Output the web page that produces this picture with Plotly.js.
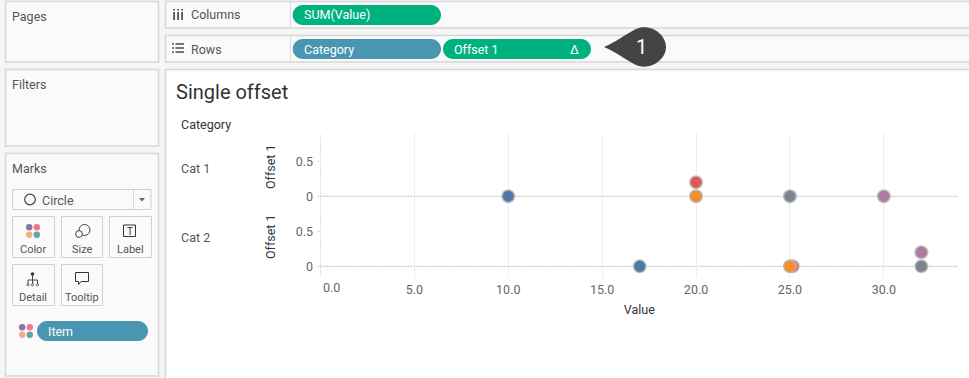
<!DOCTYPE html>
<html>
<head>
<meta charset="utf-8">
<script src="https://cdn.plot.ly/plotly-3.0.1.min.js"></script>
<style>html,body{margin:0;padding:0;background:#f5f5f5;overflow:hidden}#chart{width:969px;height:378px}</style>
</head>
<body>
<div id="chart"></div>
<script>
const items = ['Blue item', 'Red item', 'Orange item', 'Grey item', 'Purple item'];
const itemColors = ['#4e79a7', '#e15759', '#f28e2b', '#7b848f', '#b07aa1'];
const cat1Values = [10, 20, 20, 25, 30];
const cat1Offsets = [0, 0.2, 0, 0, 0];
const cat2Values = [17, 25.15, 25, 32, 32];
const cat2Offsets = [0, 0, 0, 0, 0.2];
const xTickVals = [0, 5, 10, 15, 20, 25, 30];
const xTickText = ['', '5.0', '10.0', '15.0', '20.0', '25.0', '30.0'];
const yTickVals = [0, 0.5];
const yTickText = ['0', '0.5'];

const W = 969, H = 378;
const FONT = 'Roboto, sans-serif';
const px = x => x / W, py = y => 1 - y / H;
const shapes = [], annotations = [];

function rect(x0, y0, x1, y1, fill, line, lw) {
  shapes.push({type:'rect', xref:'paper', yref:'paper', layer:'below',
    x0:px(x0), x1:px(x1), y0:py(y0), y1:py(y1), fillcolor:fill||'rgba(0,0,0,0)',
    line:{color:line||'rgba(0,0,0,0)', width:lw===undefined?(line?2:0):lw}});
}
function pathPx(cmds, fill, line, lw) {
  const d = cmds.map(c => {
    if (typeof c === 'string') return c;
    return px(c[0]) + ',' + py(c[1]);
  }).join(' ');
  shapes.push({type:'path', xref:'paper', yref:'paper', layer:'below', path:d,
    fillcolor:fill||'rgba(0,0,0,0)', line:{color:line||'rgba(0,0,0,0)', width:lw===undefined?(line?1:0):lw}});
}
function circle(cx, cy, r, fill, line, lw) {
  shapes.push({type:'circle', xref:'paper', yref:'paper', layer:'below',
    x0:px(cx-r), x1:px(cx+r), y0:py(cy-r), y1:py(cy+r), fillcolor:fill||'rgba(0,0,0,0)',
    line:{color:line||'rgba(0,0,0,0)', width:lw===undefined?(line?1:0):lw}});
}
function pill(x0, y0, x1, y1, fill) {
  const r = (y1 - y0) / 2, k = r * 0.55, m = (y0 + y1) / 2;
  pathPx(['M',[x0+r,y0],'L',[x1-r,y0],'C',[x1-r+k,y0],[x1,m-k],[x1,m],'C',[x1,m+k],[x1-r+k,y1],[x1-r,y1],
    'L',[x0+r,y1],'C',[x0+r-k,y1],[x0,m+k],[x0,m],'C',[x0,m-k],[x0+r-k,y0],[x0+r,y0],'Z'], fill);
}
function label(text, x, y, opts) {
  opts = opts || {};
  const anchor = opts.anchor || 'left';
  annotations.push({text:text, xref:'paper', yref:'paper', x:px(anchor === 'left' ? x - 1 : x), y:py(y),
    xanchor:anchor, yanchor:'middle', showarrow:false, textangle:opts.angle||0,
    borderpad:0, font:{family:FONT, size:opts.size||12.5, color:opts.color||'#555'}});
}
function dots(cx, cy) {
  circle(cx-3.8, cy-3.8, 3.2, '#8b75a0');
  circle(cx+3.8, cy-3.8, 3.2, '#f0768a');
  circle(cx-3.8, cy+3.8, 3.2, '#f2ad84');
  circle(cx+3.8, cy+3.8, 3.2, '#6b9fab');
}

// Left shelves
rect(5.5, 1.5, 158.5, 62, '#fafafa', '#d6d6d6', 1.5);
rect(5.5, 69.5, 158.5, 146, '#fafafa', '#d6d6d6', 1.5);
rect(5.5, 153.5, 158.5, 376, '#fafafa', '#d6d6d6', 1.5);
// Columns and rows shelves
rect(165.5, 1.5, 975, 28, '#fafafa', '#d6d6d6', 1.5);
rect(165.5, 35.5, 975, 62, '#fafafa', '#d6d6d6', 1.5);
rect(290, 1.5, 290.8, 28, '#d6d6d6');
rect(290, 35.5, 290.8, 62, '#d6d6d6');
// Chart pane
rect(165.5, 69.5, 975, 385, '#ffffff', '#d6d6d6', 1.5);

// Pills
pill(292.7, 5, 441, 25, '#00b180');
pill(292.7, 39, 441, 59, '#4996b2');
pill(443, 39, 591, 59, '#00b180');
pill(37, 321, 148, 341, '#4996b2');

// Callout
pathPx(['M',[604,47],'C',[616,42],[626,34],[636,29],'C',[650,23],[666,34],[666,47],'C',[666,60],[650,71],[636,65],'C',[626,60],[616,52],[604,47],'Z'], '#444444');

// Shelf icons
rect(173.2, 12, 175, 20, '#555'); rect(177.2, 12, 179, 20, '#555'); rect(181.2, 12, 183, 20, '#555');
rect(173.2, 9, 175, 10.6, '#555'); rect(177.2, 9, 179, 10.6, '#555'); rect(181.2, 9, 183, 10.6, '#555');
[44, 48, 52].forEach(y => { rect(172, y-0.8, 174, y+0.8, '#555'); rect(175.5, y-0.8, 184, y+0.8, '#555'); });

// Marks card
rect(12.5, 189.5, 151, 209.5, '#fafafa', '#d0d0d0', 1);
rect(133, 190, 133.8, 209, '#d0d0d0');
circle(30, 199.5, 5.3, 'rgba(0,0,0,0)', '#444', 1.2);
pathPx(['M',[139,198],'L',[145,198],'L',[142,201.5],'Z'], '#666');
[[12.5,216.5,54.5,257.5],[61.5,216.5,102.5,257.5],[109.5,216.5,151.5,257.5],[12.5,264.5,54.5,305.5],[61.5,264.5,102.5,305.5]]
  .forEach(b => rect(b[0], b[1], b[2], b[3], '#fafafa', '#d0d0d0', 1));
dots(33, 231);
dots(26, 331);
// Size icon
circle(84.5, 230, 5.5, 'rgba(0,0,0,0)', '#444', 1);
circle(79, 234, 3.4, '#fafafa', '#444', 1);
// Label icon
rect(123.5, 225, 135.5, 236.5, 'rgba(0,0,0,0)', '#333', 1);
// Detail icon
circle(32.5, 274, 1.8, '#333');
pathPx(['M',[32.5,275],'L',[32.5,280],'M',[28,284],'L',[28,280],'L',[37.5,280],'L',[37.5,284],'M',[32.5,280],'L',[32.5,284]], null, '#444', 1);
circle(28, 284.8, 1.1, null, '#444', 0.8); circle(32.5, 284.8, 1.1, null, '#444', 0.8); circle(37.5, 284.8, 1.1, null, '#444', 0.8);
// Tooltip icon
pathPx(['M',[75.5,272.5],'L',[88.5,272.5],'L',[88.5,281.5],'L',[81,281.5],'L',[78.5,284.5],'L',[78.5,281.5],'L',[75.5,281.5],'Z'], null, '#333', 1);

// Chrome text
label('Pages', 12, 16.5);
label('Filters', 12, 84.5);
label('Marks', 12, 168.5);
label('Columns', 191, 15);
label('Rows', 191, 49);
label('SUM(Value)', 304, 15, {color:'#fff'});
label('Category', 304, 49, {color:'#fff'});
label('Offset 1', 454, 49, {color:'#fff'});
label('Δ', 574.5, 49, {color:'#fff', anchor:'center'});
label('1', 641, 47, {color:'#fff', size:20, anchor:'center'});
label('Circle', 42, 200);
label('Color', 33, 249.5, {anchor:'center', size:11});
label('Size', 82, 249.5, {anchor:'center', size:11});
label('Label', 130, 249.5, {anchor:'center', size:11});
label('T', 129.5, 231, {anchor:'center', size:10, color:'#333'});
label('Detail', 33, 297.5, {anchor:'center', size:11});
label('Tooltip', 82, 297.5, {anchor:'center', size:11});
label('Item', 48, 331, {color:'#fff'});

// View text
label('Single offset', 176, 92, {size:20, color:'#333'});
label('Category', 181, 124.5, {color:'#333'});
label('Cat 1', 181, 168);
label('Cat 2', 181, 237.5);
label('Offset 1', 270, 167, {angle:-90, color:'#2b3a4a', anchor:'center', size:12.5});
label('Offset 1', 270, 237, {angle:-90, color:'#2b3a4a', anchor:'center', size:12.5});
label('0.0', 331, 287, {anchor:'center', color:'#666', size:12.5});

// Reference lines through library scales
const dotted = {color:'#bcbcbc', width:1, dash:'2px,1px'};
['y', 'y2'].forEach(function(ref){
  shapes.push({type:'line', layer:'below', xref:'x', yref:ref, x0:0, x1:33.95, y0:0, y1:0, line:dotted});
});
shapes.push({type:'line', layer:'below', xref:'x', yref:'paper', x0:0, x1:0, y0:py(135), y1:py(276), line:dotted});

const traces = [];
items.forEach(function(name, i){
  const marker = {size:12.5, color:itemColors[i], opacity:1, line:{color:'rgba(185,185,185,0.85)', width:1.6}};
  traces.push({type:'scatter', mode:'markers', name:name, x:[cat1Values[i]], y:[cat1Offsets[i]], xaxis:'x', yaxis:'y', marker:marker, cliponaxis:false, showlegend:false});
  traces.push({type:'scatter', mode:'markers', name:name, x:[cat2Values[i]], y:[cat2Offsets[i]], xaxis:'x', yaxis:'y2', marker:marker, cliponaxis:false, showlegend:false});
});

const yBase = {tickmode:'array', tickvals:yTickVals, ticktext:yTickText, showgrid:false, zeroline:false, showline:false,
  ticks:'outside', ticklen:3, tickcolor:'#e0e0e0', ticklabelstandoff:1, tickfont:{family:FONT, size:12.5, color:'#666'}, fixedrange:true};

const layout = {
  width:W, height:H, margin:{l:0, r:0, t:0, b:0, pad:0}, showlegend:false,
  paper_bgcolor:'#f5f5f5', plot_bgcolor:'rgba(0,0,0,0)', hovermode:'closest',
  xaxis:{domain:[px(320.5), px(958)], range:[0, 33.95], anchor:'y2', tickmode:'array', tickvals:xTickVals, ticktext:xTickText,
    showgrid:true, gridcolor:'#eeeeee', gridwidth:1, zeroline:false, showline:false, ticks:'', ticklabelstandoff:2,
    tickfont:{family:FONT, size:12.5, color:'#666'}, fixedrange:true,
    title:{text:'Value', standoff:9, font:{family:FONT, size:12.5, color:'#333'}}},
  yaxis:Object.assign({}, yBase, {domain:[py(206), py(133)], range:[-0.139, 0.904], anchor:'x'}),
  yaxis2:Object.assign({}, yBase, {domain:[py(278), py(206)], range:[-0.167, 0.861], anchor:'x'}),
  shapes:shapes, annotations:annotations
};
Plotly.newPlot('chart', traces, layout, {displayModeBar:false, responsive:false});
</script>
</body>
</html>
